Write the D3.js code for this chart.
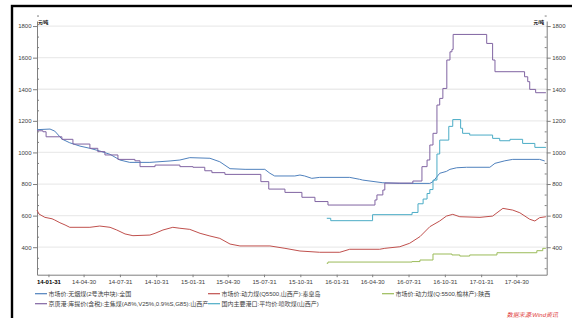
<!DOCTYPE html>
<html>
<head>
<meta charset="utf-8">
<script src="https://cdn.jsdelivr.net/npm/d3@7"></script>
<style>
body { margin: 0; background: #fff; }
text { font-family: "Liberation Sans", "Noto Sans CJK SC", sans-serif; }
</style>
</head>
<body>
<div id="chart"></div>
<script>
// chart values
var xTickLabels = ["14-01-31", "14-04-30", "14-07-31", "14-10-31", "15-01-31", "15-04-30", "15-07-31",
    "15-10-31", "16-01-31", "16-04-30", "16-07-31", "16-10-31", "17-01-31", "17-04-30"];
var yTicks = [400, 600, 800, 1000, 1200, 1400, 1600, 1800];

var seriesNames = ["市场价:无烟煤(2号洗中块):全国", "市场价:动力煤(Q5500,山西产):秦皇岛", "市场价:动力煤(Q:5500,榆林产):陕西",
    "京唐港:库提价(含税):主焦煤(A8%,V25%,0.9%S,G85):山西产", "国内主要港口:平均价:喷吹煤(山西产)"];
var seriesColors = ["#4F81BD", "#C0504D", "#9BBB59", "#8064A2", "#4BACC6"];

var anthraciteDates = ["2014-01-02", "2014-02-04", "2014-02-16", "2014-03-06", "2014-03-26", "2014-04-21", "2014-05-16",
    "2014-06-10", "2014-07-06", "2014-07-31", "2014-08-25", "2014-10-15", "2014-12-05", "2014-12-30", "2015-01-24",
    "2015-03-16", "2015-04-10", "2015-05-06", "2015-06-13", "2015-08-02", "2015-08-15", "2015-08-27", "2015-10-17",
    "2015-10-30", "2015-11-11", "2015-11-29", "2015-12-19", "2016-03-04", "2016-03-29", "2016-04-06", "2016-05-27",
    "2016-07-09", "2016-09-23", "2016-10-01", "2016-10-18", "2016-11-04", "2016-11-13", "2016-11-30", "2016-12-25",
    "2017-02-22", "2017-03-07", "2017-04-01", "2017-04-21", "2017-06-28", "2017-07-11"];
var anthraciteValues = [1144, 1148, 1135, 1085, 1061, 1040, 1026,
    1009, 988, 952, 937, 937, 946, 952, 967,
    963, 941, 897, 893, 893, 868, 851, 851,
    857, 851, 836, 842, 842, 830, 825, 808,
    804, 804, 815, 868, 880, 893, 903, 906,
    906, 931, 947, 956, 956, 946];

var qhdDates = ["2014-01-02", "2014-01-07", "2014-01-22", "2014-02-09", "2014-02-16", "2014-03-01", "2014-03-14",
    "2014-03-26", "2014-05-16", "2014-06-10", "2014-07-06", "2014-07-23", "2014-08-13", "2014-09-02", "2014-10-15",
    "2014-10-28", "2014-11-17", "2014-12-12", "2014-12-30", "2015-01-24", "2015-02-19", "2015-03-16", "2015-04-10",
    "2015-05-06", "2015-05-31", "2015-08-15", "2015-09-22", "2015-10-30", "2015-12-19", "2016-02-08", "2016-03-04",
    "2016-05-19", "2016-06-01", "2016-07-09", "2016-08-03", "2016-08-29", "2016-09-23", "2016-10-18", "2016-11-04",
    "2016-11-20", "2016-12-08", "2017-01-28", "2017-03-01", "2017-03-27", "2017-04-21", "2017-05-09", "2017-06-03",
    "2017-06-16", "2017-06-28", "2017-07-14"];
var qhdValues = [635, 610, 589, 580, 572, 555, 541,
    526, 526, 534, 526, 509, 484, 473, 477,
    488, 509, 526, 520, 513, 488, 471, 456,
    420, 408, 408, 393, 376, 368, 368, 387,
    387, 393, 403, 425, 467, 530, 566, 597,
    608, 593, 589, 597, 646, 635, 618, 577,
    566, 587, 593];

var yulinDates = ["2016-01-06", "2016-01-09", "2016-08-09", "2016-08-29", "2016-10-01", "2016-11-18", "2016-12-08",
    "2017-01-02", "2017-03-12", "2017-06-21", "2017-07-06", "2017-07-14"];
var yulinValues = [298, 306, 309, 319, 357, 351, 344,
    351, 365, 378, 393, 393];

var cokingDates = ["2014-01-02", "2014-01-17", "2014-01-25", "2014-03-06", "2014-04-03", "2014-05-16", "2014-06-05",
    "2014-06-23", "2014-07-26", "2014-09-07", "2014-09-20", "2014-10-28", "2014-12-30", "2015-02-01", "2015-03-03",
    "2015-03-21", "2015-04-23", "2015-07-23", "2015-08-12", "2015-09-22", "2015-11-04", "2015-12-07", "2016-01-09",
    "2016-05-07", "2016-05-12", "2016-05-27", "2016-06-01", "2016-08-11", "2016-09-03", "2016-09-16", "2016-09-23",
    "2016-10-01", "2016-10-11", "2016-10-18", "2016-10-26", "2016-11-05", "2016-11-13", "2016-11-18", "2016-11-21",
    "2017-02-14", "2017-03-01", "2017-03-07", "2017-05-21", "2017-05-29", "2017-06-03", "2017-06-18", "2017-07-14"];
var cokingValues = [1137, 1131, 1099, 1083, 1053, 1026, 1005,
    984, 956, 947, 910, 920, 910, 906, 884,
    872, 861, 815, 768, 747, 716, 689, 667,
    699, 731, 762, 806, 819, 910, 952, 1047,
    1121, 1300, 1342, 1405, 1585, 1637, 1652, 1747,
    1690, 1585, 1511, 1479, 1448, 1399, 1378, 1378];

var pciDates = ["2016-01-06", "2016-01-16", "2016-05-01", "2016-08-09", "2016-08-24", "2016-09-06", "2016-09-16",
    "2016-09-23", "2016-10-01", "2016-10-11", "2016-10-18", "2016-11-10", "2016-11-20", "2016-12-10", "2016-12-15",
    "2017-01-02", "2017-03-01", "2017-03-19", "2017-04-14", "2017-05-16", "2017-06-16", "2017-07-14"];
var pciValues = [583, 568, 606, 620, 675, 705, 740,
    765, 825, 990, 1078, 1165, 1208, 1153, 1121,
    1110, 1089, 1074, 1083, 1057, 1032, 1032];

var parseDate = d3.timeParse("%Y-%m-%d");
var parseTick = d3.timeParse("%y-%m-%d");

var width = 572;
var height = 318;

var svg = d3.select("#chart")
    .append("svg")
    .attr("width", width)
    .attr("height", height);

var x = d3.scaleTime()
    .domain([parseDate("2014-01-02"), parseDate("2017-07-16")])
    .range([37, 546.7]);

var y = d3.scaleLinear()
    .domain([226, 1832])
    .range([274.7, 21]);

// outer frame (only top and left show inside the picture)
svg.append("rect")
    .attr("x", 12)
    .attr("y", 6)
    .attr("width", 700)
    .attr("height", 500)
    .attr("fill", "none")
    .attr("stroke", "#000")
    .attr("stroke-width", 2.4);

// gridlines
svg.append("g")
    .selectAll("line")
    .data(yTicks)
    .enter()
    .append("line")
    .attr("x1", x.range()[0])
    .attr("x2", x.range()[1])
    .attr("y1", d => y(d))
    .attr("y2", d => y(d))
    .attr("stroke", "#ebebeb")
    .attr("stroke-width", 1.3);

// minor ticks, three per interval
var minorTicks = [];
for (var i = 0; i < yTicks.length; i++) {
    minorTicks.push(yTicks[i] - 200 / 3, yTicks[i] - 400 / 3);
}
minorTicks.push(1800 + 200 / 3 - 0.1);

function styleAxis(g) {
    g.select(".domain").attr("stroke", "#7f7f7f");
    g.selectAll(".tick line").attr("stroke", "#7f7f7f");
    g.selectAll(".tick text")
        .attr("fill", "#404040")
        .style("font-size", "6px")
        .style("font-family", "Liberation Sans, sans-serif");
}

var left = svg.append("g")
    .attr("transform", `translate(${x.range()[0]},0)`)
    .call(d3.axisLeft(y).tickValues(yTicks).tickFormat(d3.format("d")).tickSize(4).tickSizeOuter(0).tickPadding(1.5));
styleAxis(left);

svg.append("g")
    .attr("transform", `translate(${x.range()[0]},0)`)
    .call(d3.axisLeft(y).tickValues(minorTicks.filter(d => d > 226)).tickSize(-2).tickFormat(""))
    .call(g => g.select(".domain").remove())
    .call(g => g.selectAll("line").attr("stroke", "#7f7f7f"));

var right = svg.append("g")
    .attr("transform", `translate(${x.range()[1]},0)`)
    .call(d3.axisRight(y).tickValues(yTicks).tickFormat(d3.format("d")).tickSize(4).tickSizeOuter(0).tickPadding(1.5));
styleAxis(right);

svg.append("g")
    .attr("transform", `translate(${x.range()[1]},0)`)
    .call(d3.axisRight(y).tickValues(minorTicks.filter(d => d > 226)).tickSize(-2).tickFormat(""))
    .call(g => g.select(".domain").remove())
    .call(g => g.selectAll("line").attr("stroke", "#7f7f7f"));

// unit labels
svg.append("text")
    .attr("x", 38)
    .attr("y", 24)
    .style("font-size", "4.6px")
    .style("font-weight", "bold")
    .text("元/吨");

svg.append("text")
    .attr("x", 544)
    .attr("y", 24)
    .style("font-size", "4.6px")
    .style("font-weight", "bold")
    .style("text-anchor", "end")
    .text("元/吨");

// x axis
var bottom = svg.append("g")
    .attr("transform", `translate(0,${y.range()[0]})`)
    .call(d3.axisBottom(x)
        .tickValues(xTickLabels.map(parseTick))
        .tickFormat(d3.timeFormat("%y-%m-%d"))
        .tickSize(2.5)
        .tickSizeOuter(0)
        .tickPadding(3));
styleAxis(bottom);
bottom.select(".tick text")
    .attr("fill", "#000")
    .style("font-weight", "bold");

// series
var allSeries = [
    {dates: anthraciteDates, values: anthraciteValues, curve: d3.curveLinear},
    {dates: qhdDates, values: qhdValues, curve: d3.curveLinear},
    {dates: yulinDates, values: yulinValues, curve: d3.curveStepAfter},
    {dates: cokingDates, values: cokingValues, curve: d3.curveStepAfter},
    {dates: pciDates, values: pciValues, curve: d3.curveStepAfter}
];

allSeries.forEach(function(s, k) {
    var pts = s.dates.map((d, j) => [parseDate(d), s.values[j]]);
    svg.append("path")
        .datum(pts)
        .attr("fill", "none")
        .attr("stroke", seriesColors[k])
        .attr("stroke-width", 1)
        .attr("d", d3.line().curve(s.curve).x(d => x(d[0])).y(d => y(d[1])));
});

// legend
var legendPos = [[35, 293.7], [208, 293.7], [382, 293.7], [35, 303.7], [208, 303.7]];

var legend = svg.append("g")
    .selectAll("g")
    .data(seriesNames)
    .enter()
    .append("g")
    .attr("transform", (d, k) => `translate(${legendPos[k][0]},${legendPos[k][1]})`);

legend.append("line")
    .attr("x1", 0)
    .attr("x2", 12)
    .attr("stroke", (d, k) => seriesColors[k])
    .attr("stroke-width", 1.2);

legend.append("text")
    .attr("x", 13.5)
    .attr("y", 2.1)
    .attr("fill", "#404040")
    .style("font-size", "6px")
    .text(d => d);

// source note
svg.append("text")
    .attr("x", 558)
    .attr("y", 317)
    .attr("fill", "#e03a3a")
    .style("font-size", "6px")
    .style("font-style", "italic")
    .style("text-anchor", "end")
    .text("数据来源:Wind资讯");
</script>
</body>
</html>
